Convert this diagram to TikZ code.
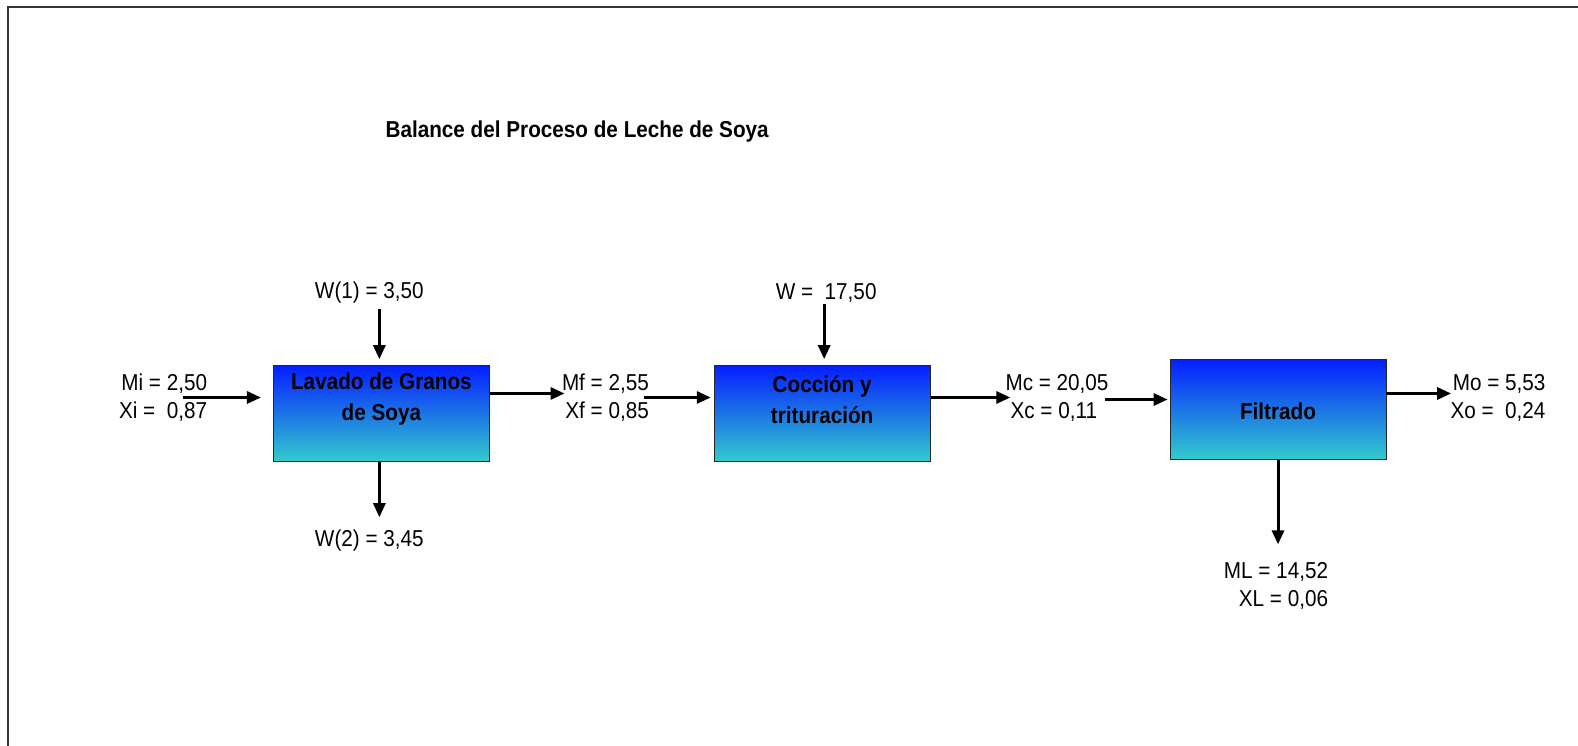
\documentclass[tikz,border=0pt]{standalone}
\usepackage{fontspec}
\setmainfont[FakeStretch=0.9]{Liberation Sans}
\usetikzlibrary{arrows.meta}
\definecolor{boxtop}{RGB}{5,30,255}
\definecolor{boxbot}{RGB}{51,204,204}
\tikzset{
  unitbox/.style={draw=black!85, line width=0.8pt, top color=boxtop, bottom color=boxbot,
    minimum width=216pt, minimum height=96pt, inner sep=0pt},
  unittext/.style={font=\fontsize{23}{31}\selectfont\bfseries, align=center, inner sep=0pt},
  flow/.style={line width=3pt, -{Triangle[length=14pt,width=12pt]}},
  datatext/.style={inner sep=0pt}
}
\begin{document}
\begin{tikzpicture}[x=1.0063pt,y=-1.0063pt,every node/.style={font=\fontsize{23}{28}\selectfont}]
\useasboundingbox (0,0) rectangle (1568.1,741.3);
% frame
\draw[line width=2.5pt, black!80] (8,741.3) -- (8,7) -- (1568.1,7);
% title
\node[font=\fontsize{23}{28}\selectfont\bfseries, anchor=west, inner sep=0pt] (title) at (383,131) {Balance del Proceso de Leche de Soya};

% process units
\node[unitbox] (lav) at (379,411) {};
\node[unittext] (lavtxt) at (379,397) {Lavado de Granos\\de Soya};
\node[unitbox] (coc) at (817,411) {};
\node[unittext] (coctxt) at (817,397) {Cocción y\\trituración};
\node[unitbox, minimum height=100pt] (fil) at (1270,407) {};
\node[unittext] (filtxt) at (1270,409) {Filtrado};

% stream data
\node[datatext, anchor=east, align=right] (mi) at (206,395) {Mi = 2,50\\Xi =~~0,87};
\node[datatext, anchor=east, align=right] (mf) at (645,395) {Mf = 2,55\\Xf = 0,85};
\node[datatext, anchor=west, align=left] (mc) at (999,395) {Mc = 20,05\\\hspace{5pt}Xc = 0,11};
\node[datatext, anchor=east, align=right] (mo) at (1536,395) {Mo = 5,53\\Xo =~~0,24};
\node[datatext, align=left] (ml) at (1268,582) {ML = 14,52\\\hspace{15pt}XL = 0,06};
\node[datatext] (w1) at (367,291) {W(1) = 3,50};
\node[datatext] (w2) at (367,537) {W(2) = 3,45};
\node[datatext] (w) at (821,291) {W =~~17,50};

% free arrow ends
\coordinate (miin) at (182,395);
\coordinate (mfin) at (561,391);
\coordinate (mfout) at (640,395);
\coordinate (mcin) at (1004,395);
\coordinate (mcout) at (1098,397);
\coordinate (moin) at (1442,391);
\coordinate (mlin) at (1270,541);
\coordinate (w1out) at (377,307);
\coordinate (w2in) at (377,514);
\coordinate (wout) at (819,302);

% streams
\draw[flow, shorten >=12pt] (miin) -- (miin -| lav.west);
\draw[flow] (mfin -| lav.east) -- (mfin);
\draw[flow, shorten >=3pt] (mfout) -- (mfout -| coc.west);
\draw[flow] (mcin -| coc.east) -- (mcin);
\draw[flow, shorten >=2pt] (mcout) -- (mcout -| fil.west);
\draw[flow] (moin -| fil.east) -- (moin);
\draw[flow] (fil.south) -- (mlin);
\draw[flow, shorten >=6pt] (w1out) -- (w1out |- lav.north);
\draw[flow] (w2in |- lav.south) -- (w2in);
\draw[flow, shorten >=6pt] (wout) -- (wout |- coc.north);
\end{tikzpicture}
\end{document}
